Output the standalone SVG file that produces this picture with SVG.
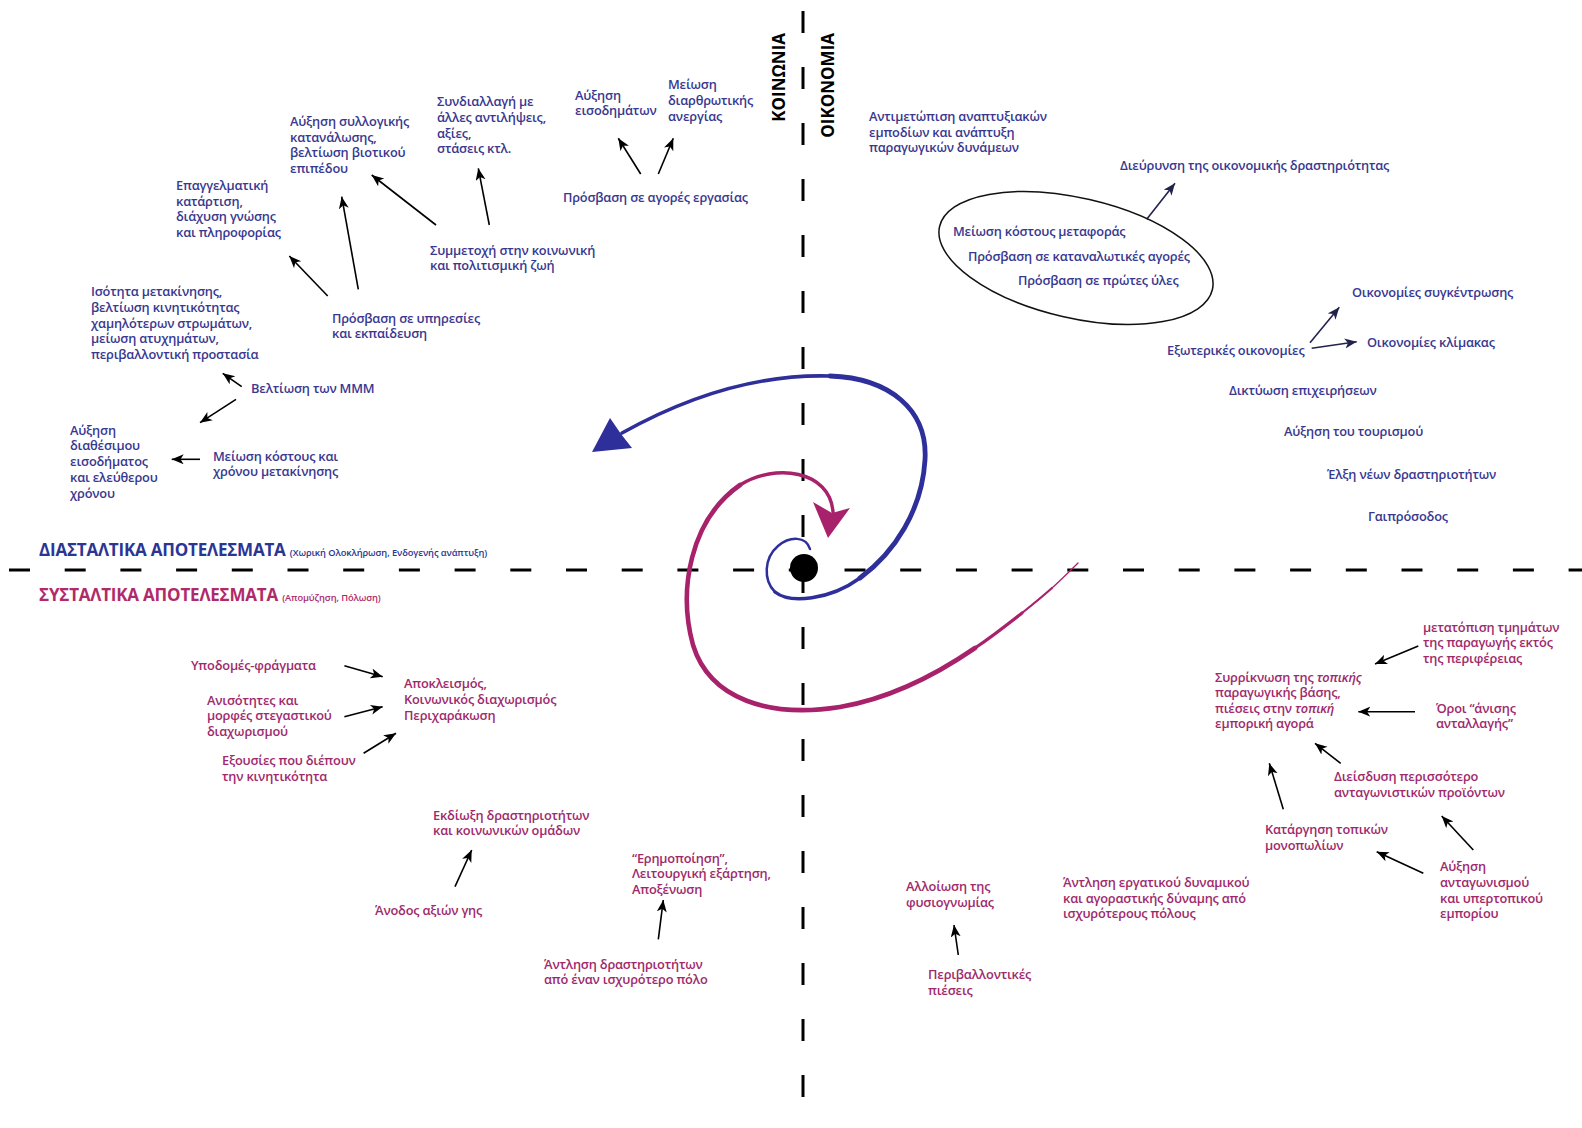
<svg xmlns="http://www.w3.org/2000/svg" width="1582" height="1128" viewBox="0 0 1582 1128">
<style>
text{font-family:"Open Sans","Noto Sans","DejaVu Sans",sans-serif;font-weight:600;font-size:12.8px;letter-spacing:-0.2px}
.b{fill:#38388f}
.m{fill:#9e2a6c}
.hb{fill:#2b3593;font-size:17px;font-weight:700;letter-spacing:-0.2px}
.hm{fill:#b02a6a;font-size:17px;font-weight:700;letter-spacing:-0.2px}
.sm{font-size:9.3px;font-weight:600;letter-spacing:-0.1px}
.ax{fill:#000;font-weight:700;font-size:17px;letter-spacing:0}
.dash{stroke:#000;stroke-width:3;fill:none}
.ar{stroke:#000;stroke-width:1.6;fill:none;marker-end:url(#ah)}
.arn{stroke:#22224e;stroke-width:1.6;fill:none;marker-end:url(#ahn)}
.sb{fill:none;stroke:#2e2f9a;stroke-linecap:round}
.sp{fill:none;stroke:#a8226b;stroke-linecap:round}
</style>
<defs>
<marker id="ah" markerUnits="userSpaceOnUse" markerWidth="13" markerHeight="11" refX="12" refY="5" orient="auto" viewBox="0 0 13 11">
<path d="M0,0 L12,5 L0,10 L3.2,5 z" fill="#000"/>
</marker>
<marker id="ahn" markerUnits="userSpaceOnUse" markerWidth="13" markerHeight="11" refX="12" refY="5" orient="auto" viewBox="0 0 13 11">
<path d="M0,0 L12,5 L0,10 L3.2,5 z" fill="#22224e"/>
</marker>
</defs>
<rect width="1582" height="1128" fill="#fff"/>

<g id="axes">
<line class="dash" x1="803" y1="11" x2="803" y2="1100" stroke-dasharray="22 34"/>
<line class="dash" x1="9" y1="570" x2="1582" y2="570" stroke-dasharray="21 34.7" stroke-width="2.8"/>
<text class="ax" transform="translate(785,33) rotate(-90)" text-anchor="end">ΚΟΙΝΩΝΙΑ</text>
<text class="ax" transform="translate(834,33) rotate(-90)" text-anchor="end">ΟΙΚΟΝΟΜΙΑ</text>
</g>

<g id="spiral">
<path class="sb" stroke-width="2.5" d="M810,549 C806,536 790,536 778,546 C764,558 763,580 775,592"/>
<path class="sb" stroke-width="3.5" d="M775,592 C790,604 830,600 860,578"/>
<path class="sb" stroke-width="4.8" d="M860,578 C895,552 922,510 925,460 C928,410 890,378 830,376"/>
<path class="sb" stroke-width="3.6" d="M830,376 C760,374 690,395 622,433"/>
<polygon fill="#2e2f9a" points="592,452 610,418 621,434 632,448"/>
<path class="sp" stroke-width="1.3" d="M1078,563 C1070,571 1062,579 1052,588"/>
<path class="sp" stroke-width="2.2" d="M1052,588 C1042,597 1032,605 1022,613"/>
<path class="sp" stroke-width="3.2" d="M1022,613 C1008,624 993,636 975,648"/>
<path class="sp" stroke-width="4.6" d="M975,648 C935,675.5 890,698.5 840,707 C770,718 710,700 693,645 C678,590 690,520 740,485"/>
<path class="sp" stroke-width="3.4" d="M740,485 C775,463 830,470 833,512"/>
<polygon fill="#a8226b" points="828,538 813,502 832,513 850,508"/>
<circle cx="804" cy="568" r="14" fill="#000"/>
</g>

<g id="connectors">
<line class="ar" x1="241.7" y1="386.7" x2="222.7" y2="373.3"/>
<line class="ar" x1="236" y1="399.3" x2="200" y2="422.7"/>
<line class="ar" x1="200" y1="459.3" x2="171.7" y2="459.3"/>
<line class="ar" x1="327.7" y1="296" x2="289.3" y2="256"/>
<line class="ar" x1="358.3" y1="289.3" x2="341.7" y2="196.7"/>
<line class="ar" x1="436" y1="225" x2="371.7" y2="175"/>
<line class="ar" x1="489.3" y1="225" x2="478.3" y2="168.3"/>
<line class="ar" x1="640.7" y1="174" x2="618.3" y2="138.3"/>
<line class="ar" x1="658.3" y1="174" x2="673.3" y2="138.3"/>
<line class="arn" x1="1146.7" y1="219.3" x2="1175" y2="183.3"/>
<line class="arn" x1="1310" y1="342.7" x2="1339.3" y2="307.3"/>
<line class="arn" x1="1311.7" y1="348.3" x2="1356.7" y2="341.7"/>
<line class="ar" x1="344.4" y1="665.7" x2="382.7" y2="676.7"/>
<line class="ar" x1="344.4" y1="716.7" x2="382.7" y2="706.7"/>
<line class="ar" x1="363.6" y1="753.3" x2="396" y2="733.3"/>
<line class="ar" x1="455" y1="886.7" x2="471.7" y2="850"/>
<line class="ar" x1="658.3" y1="939.3" x2="663.3" y2="900"/>
<line class="ar" x1="958.3" y1="955" x2="954" y2="925"/>
<line class="ar" x1="1418.3" y1="646" x2="1375" y2="664"/>
<line class="ar" x1="1415" y1="711.7" x2="1358.3" y2="711.7"/>
<line class="ar" x1="1340.7" y1="763.3" x2="1315" y2="743.3"/>
<line class="ar" x1="1283.3" y1="809.3" x2="1269.3" y2="763.3"/>
<line class="ar" x1="1423.3" y1="873.3" x2="1376.7" y2="851.7"/>
<line class="ar" x1="1473.3" y1="850" x2="1441.7" y2="816"/>
</g>

<g id="headings">
<text class="hb" x="39" y="556">ΔΙΑΣΤΑΛΤΙΚΑ ΑΠΟΤΕΛΕΣΜΑΤΑ <tspan class="sm">(Χωρική Ολοκλήρωση, Ενδογενής ανάπτυξη)</tspan></text>
<text class="hm" x="39" y="601">ΣΥΣΤΑΛΤΙΚΑ ΑΠΟΤΕΛΕΣΜΑΤΑ <tspan class="sm">(Απομύζηση, Πόλωση)</tspan></text>
</g>

<g id="n-sylog"><text class="b"><tspan x="290" y="126">Αύξηση συλλογικής</tspan><tspan x="290" y="141.6">κατανάλωσης,</tspan><tspan x="290" y="157.2">βελτίωση βιοτικού</tspan><tspan x="290" y="172.8">επιπέδου</tspan></text></g>
<g id="n-syndial"><text class="b"><tspan x="437" y="106">Συνδιαλλαγή με</tspan><tspan x="437" y="121.8">άλλες αντιλήψεις,</tspan><tspan x="437" y="137.6">αξίες,</tspan><tspan x="437" y="153.4">στάσεις κτλ.</tspan></text></g>
<g id="n-eisod"><text class="b"><tspan x="575" y="99.5">Αύξηση</tspan><tspan x="575" y="115.2">εισοδημάτων</tspan></text></g>
<g id="n-anerg"><text class="b"><tspan x="668" y="88.5">Μείωση</tspan><tspan x="668" y="104.8">διαρθρωτικής</tspan><tspan x="668" y="121">ανεργίας</tspan></text></g>
<g id="n-agores"><text class="b" x="563" y="202">Πρόσβαση σε αγορές εργασίας</text></g>
<g id="n-symmet"><text class="b"><tspan x="430" y="255">Συμμετοχή στην κοινωνική</tspan><tspan x="430" y="270.2">και πολιτισμική ζωή</tspan></text></g>
<g id="n-yphr"><text class="b"><tspan x="332" y="322.5">Πρόσβαση σε υπηρεσίες</tspan><tspan x="332" y="338">και εκπαίδευση</tspan></text></g>
<g id="n-epag"><text class="b"><tspan x="176" y="190">Επαγγελματική</tspan><tspan x="176" y="205.6">κατάρτιση,</tspan><tspan x="176" y="221.2">διάχυση γνώσης</tspan><tspan x="176" y="236.8">και πληροφορίας</tspan></text></g>
<g id="n-isot"><text class="b"><tspan x="91" y="296">Ισότητα μετακίνησης,</tspan><tspan x="91" y="311.8">βελτίωση κινητικότητας</tspan><tspan x="91" y="327.6">χαμηλότερων στρωμάτων,</tspan><tspan x="91" y="343.4">μείωση ατυχημάτων,</tspan><tspan x="91" y="359.2">περιβαλλοντική προστασία</tspan></text></g>
<g id="n-mmm"><text class="b" x="251" y="393">Βελτίωση των ΜΜΜ</text></g>
<g id="n-diath"><text class="b"><tspan x="70" y="434.5">Αύξηση</tspan><tspan x="70" y="450.3">διαθέσιμου</tspan><tspan x="70" y="466.1">εισοδήματος</tspan><tspan x="70" y="481.9">και ελεύθερου</tspan><tspan x="70" y="497.7">χρόνου</tspan></text></g>
<g id="n-meiosi"><text class="b"><tspan x="213" y="460.5">Μείωση κόστους και</tspan><tspan x="213" y="476">χρόνου μετακίνησης</tspan></text></g>

<g id="n-antim"><text class="b"><tspan x="869" y="121">Αντιμετώπιση αναπτυξιακών</tspan><tspan x="869" y="136.6">εμποδίων και ανάπτυξη</tspan><tspan x="869" y="152.2">παραγωγικών δυνάμεων</tspan></text></g>
<g id="n-dieur"><text class="b" x="1120" y="169.5">Διεύρυνση της οικονομικής δραστηριότητας</text></g>
<g id="n-ellipse">
<ellipse cx="1076" cy="258" rx="140" ry="60" transform="rotate(13 1076 258)" fill="none" stroke="#111" stroke-width="1.5"/>
<text class="b" x="953" y="236">Μείωση κόστους μεταφοράς</text>
<text class="b" x="968" y="261">Πρόσβαση σε καταναλωτικές αγορές</text>
<text class="b" x="1018" y="284.5">Πρόσβαση σε πρώτες ύλες</text>
</g>
<g id="n-synk"><text class="b" x="1352" y="297">Οικονομίες συγκέντρωσης</text></g>
<g id="n-klim"><text class="b" x="1367" y="347">Οικονομίες κλίμακας</text></g>
<g id="n-exot"><text class="b" x="1167" y="355">Εξωτερικές οικονομίες</text></g>
<g id="n-dikt"><text class="b" x="1229" y="395">Δικτύωση επιχειρήσεων</text></g>
<g id="n-tour"><text class="b" x="1284" y="435.5">Αύξηση του τουρισμού</text></g>
<g id="n-elxi"><text class="b" x="1327" y="478.5">Έλξη νέων δραστηριοτήτων</text></g>
<g id="n-gai"><text class="b" x="1368" y="520.5">Γαιπρόσοδος</text></g>

<g id="n-ypod"><text class="m" x="191" y="670">Υποδομές-φράγματα</text></g>
<g id="n-aniso"><text class="m"><tspan x="207" y="704.5">Ανισότητες και</tspan><tspan x="207" y="720.3">μορφές στεγαστικού</tspan><tspan x="207" y="736.1">διαχωρισμού</tspan></text></g>
<g id="n-exous"><text class="m"><tspan x="222" y="764.5">Εξουσίες που διέπουν</tspan><tspan x="222" y="780.5">την κινητικότητα</tspan></text></g>
<g id="n-apokl"><text class="m"><tspan x="404" y="688">Αποκλεισμός,</tspan><tspan x="404" y="704">Κοινωνικός διαχωρισμός</tspan><tspan x="404" y="719.8">Περιχαράκωση</tspan></text></g>
<g id="n-ekdi"><text class="m"><tspan x="433" y="819.5">Εκδίωξη δραστηριοτήτων</tspan><tspan x="433" y="834.8">και κοινωνικών ομάδων</tspan></text></g>
<g id="n-anodos"><text class="m" x="375" y="914.5">Άνοδος αξιών γης</text></g>
<g id="n-erim"><text class="m"><tspan x="632" y="862.5">“Ερημοποίηση”,</tspan><tspan x="632" y="878.2">Λειτουργική εξάρτηση,</tspan><tspan x="632" y="893.8">Αποξένωση</tspan></text></g>
<g id="n-antl"><text class="m"><tspan x="544" y="968.5">Άντληση δραστηριοτήτων</tspan><tspan x="544" y="984.2">από έναν ισχυρότερο πόλο</tspan></text></g>
<g id="n-alloi"><text class="m"><tspan x="906" y="891">Αλλοίωση της</tspan><tspan x="906" y="907">φυσιογνωμίας</tspan></text></g>
<g id="n-perib"><text class="m"><tspan x="928" y="979.3">Περιβαλλοντικές</tspan><tspan x="928" y="994.5">πιέσεις</tspan></text></g>
<g id="n-antl2"><text class="m"><tspan x="1063" y="887">Άντληση εργατικού δυναμικού</tspan><tspan x="1063" y="902.6">και αγοραστικής δύναμης από</tspan><tspan x="1063" y="918.3">ισχυρότερους πόλους</tspan></text></g>
<g id="n-metat"><text class="m"><tspan x="1423" y="631.6">μετατόπιση τμημάτων</tspan><tspan x="1423" y="647">της παραγωγής εκτός</tspan><tspan x="1423" y="662.6">της περιφέρειας</tspan></text></g>
<g id="n-syrr"><text class="m"><tspan x="1215" y="681.6">Συρρίκνωση της <tspan font-style="italic">τοπικής</tspan></tspan><tspan x="1215" y="697.2">παραγωγικής βάσης,</tspan><tspan x="1215" y="712.8">πιέσεις στην <tspan font-style="italic">τοπική</tspan></tspan><tspan x="1215" y="728.4">εμπορική αγορά</tspan></text></g>
<g id="n-oroi"><text class="m"><tspan x="1436" y="712.6">Όροι “άνισης</tspan><tspan x="1436" y="728.3">ανταλλαγής”</tspan></text></g>
<g id="n-dieis"><text class="m"><tspan x="1334" y="781">Διείσδυση περισσότερο</tspan><tspan x="1334" y="796.6">ανταγωνιστικών προϊόντων</tspan></text></g>
<g id="n-katarg"><text class="m"><tspan x="1265" y="833.6">Κατάργηση τοπικών</tspan><tspan x="1265" y="850.2">μονοπωλίων</tspan></text></g>
<g id="n-auxi"><text class="m"><tspan x="1440" y="871">Αύξηση</tspan><tspan x="1440" y="887.4">ανταγωνισμού</tspan><tspan x="1440" y="902.8">και υπερτοπικού</tspan><tspan x="1440" y="918.4">εμπορίου</tspan></text></g>
</svg>
